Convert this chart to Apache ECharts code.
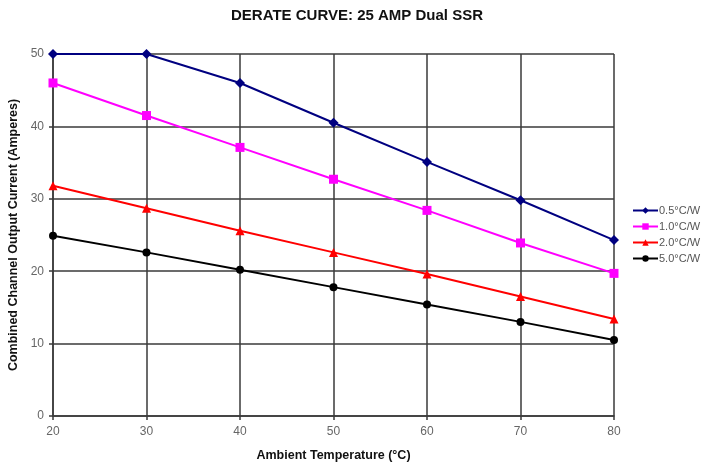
<!DOCTYPE html>
<html>
<head>
<meta charset="utf-8">
<script src="https://cdn.jsdelivr.net/npm/echarts@6/dist/echarts.min.js"></script>
<style>
  html, body { margin: 0; padding: 0; background: #fff; }
  #chart { width: 704px; height: 466px; }
</style>
</head>
<body>
<div id="chart"></div>
<script>
// ambient temperature (°C)
var temps = [20, 30, 40, 50, 60, 70, 80];
// combined channel output current (A), per heatsink rating
var s05 = [50, 50, 46.0, 40.5, 35.1, 29.8, 24.3];
var s10 = [46.0, 41.5, 37.1, 32.7, 28.4, 23.9, 19.7];
var s20 = [31.8, 28.7, 25.6, 22.6, 19.6, 16.5, 13.4];
var s50 = [24.9, 22.6, 20.2, 17.8, 15.4, 13.0, 10.5];
var names = ["0.5°C/W", "1.0°C/W", "2.0°C/W", "5.0°C/W"];

var font = "Liberation Sans, Arial, sans-serif";
var gridColor = "#3a3a3a";

function pairs(vals) {
  return temps.map(function (t, i) { return [t, vals[i]]; });
}

function mkSeries(name, vals, color, symbol, size) {
  return {
    name: name,
    type: "line",
    data: pairs(vals),
    symbol: symbol,
    symbolSize: size,
    itemStyle: { color: color },
    lineStyle: { color: color, width: 2 },
    z: 5
  };
}

var myChart = echarts.init(document.getElementById("chart"));
myChart.setOption({
  animation: false,
  backgroundColor: "#fff",
  title: {
    text: "DERATE CURVE: 25 AMP Dual SSR",
    left: 352,
    top: 3,
    textAlign: "center",
    textStyle: { fontFamily: font, fontSize: 15, fontWeight: "bold", color: "#111" }
  },
  grid: { left: 53, right: 90, top: 54, bottom: 50, containLabel: false, outerBoundsMode: "none" },
  legend: {
    orient: "vertical",
    left: 627,
    top: 200,
    itemWidth: 25,
    itemHeight: 8,
    itemGap: 5,
    data: names,
    textStyle: { fontFamily: font, fontSize: 11, color: "#555", padding: [0, 0, 0, -4] }
  },
  xAxis: {
    type: "value",
    min: 20,
    max: 80,
    interval: 10,
    name: "Ambient Temperature (°C)",
    nameLocation: "middle",
    nameGap: 33,
    nameTextStyle: { fontFamily: font, fontSize: 12.5, fontWeight: "bold", color: "#111" },
    axisLine: { show: true, lineStyle: { color: gridColor, width: 1.5 } },
    axisTick: { show: true, length: 4, lineStyle: { color: gridColor, width: 1.5 } },
    axisLabel: { fontFamily: font, fontSize: 12, color: "#666", margin: 10 },
    splitLine: { show: true, lineStyle: { color: gridColor, width: 1.5 } }
  },
  yAxis: {
    type: "value",
    min: 0,
    max: 50,
    interval: 10,
    name: "Combined Channel Output Current (Amperes)",
    nameLocation: "middle",
    nameGap: 33,
    nameTextStyle: { fontFamily: font, fontSize: 12.5, fontWeight: "bold", color: "#111" },
    axisLine: { show: true, lineStyle: { color: gridColor, width: 1.5 } },
    axisTick: { show: true, length: 4, lineStyle: { color: gridColor, width: 1.5 } },
    axisLabel: { fontFamily: font, fontSize: 12, color: "#666", margin: 9 },
    splitLine: { show: true, lineStyle: { color: gridColor, width: 1.5 } }
  },
  series: [
    mkSeries(names[0], s05, "#000080", "diamond", 10),
    mkSeries(names[1], s10, "#ff00ff", "rect", 9),
    mkSeries(names[2], s20, "#ff0000", "triangle", 9),
    mkSeries(names[3], s50, "#000000", "circle", 8)
  ]
});
</script>
</body>
</html>
